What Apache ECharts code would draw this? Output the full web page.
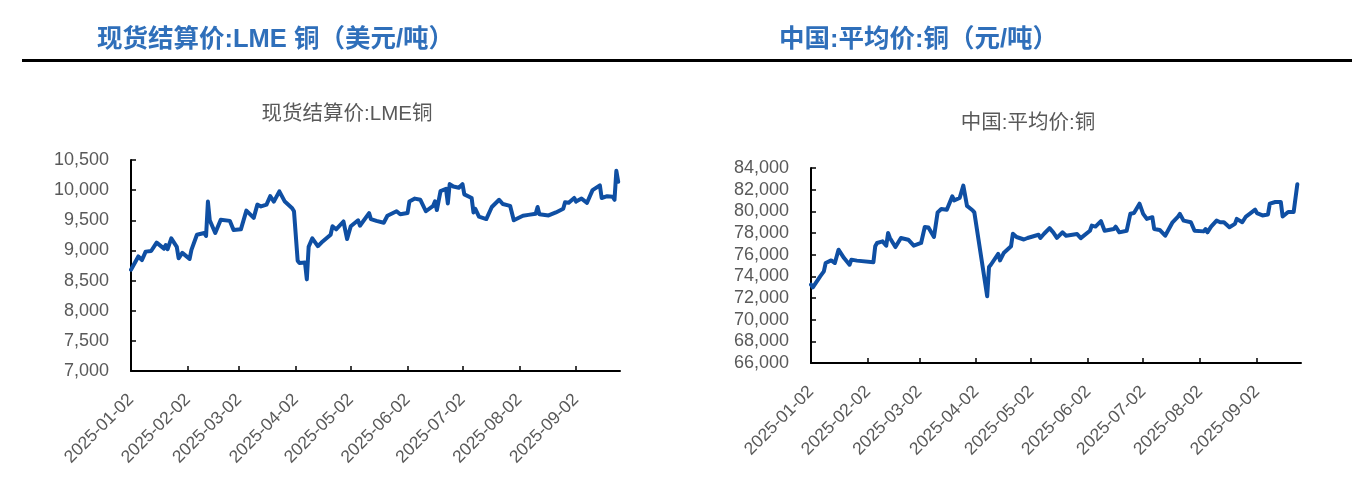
<!DOCTYPE html>
<html>
<head>
<meta charset="utf-8">
<script src="https://cdn.jsdelivr.net/npm/echarts@6/dist/echarts.min.js"></script>
<style>
html,body{margin:0;padding:0;background:#fff;}
#c{width:1360px;height:479px;}
</style>
</head>
<body>
<div id="c"></div>
<script>
// ---- data ----
const tickLabels = ['2025-01-02','2025-02-02','2025-03-02','2025-04-02','2025-05-02','2025-06-02','2025-07-02','2025-08-02','2025-09-02'];
const axisStart = '2025-01-02';
const axisEnd = '2025-09-26';

const lmeDates = ['2025-01-02','2025-01-06','2025-01-08','2025-01-10','2025-01-13','2025-01-16','2025-01-20','2025-01-21','2025-01-22','2025-01-24','2025-01-27','2025-01-28','2025-01-30','2025-02-03','2025-02-04','2025-02-07','2025-02-11','2025-02-12','2025-02-13','2025-02-14','2025-02-17','2025-02-20','2025-02-25','2025-02-27','2025-03-03','2025-03-06','2025-03-10','2025-03-12','2025-03-14','2025-03-17','2025-03-19','2025-03-21','2025-03-24','2025-03-27','2025-03-31','2025-04-01','2025-04-02','2025-04-03','2025-04-04','2025-04-07','2025-04-08','2025-04-09','2025-04-11','2025-04-14','2025-04-16','2025-04-21','2025-04-22','2025-04-24','2025-04-28','2025-04-30','2025-05-02','2025-05-06','2025-05-07','2025-05-12','2025-05-13','2025-05-16','2025-05-20','2025-05-22','2025-05-27','2025-05-29','2025-06-02','2025-06-03','2025-06-06','2025-06-09','2025-06-12','2025-06-16','2025-06-17','2025-06-18','2025-06-20','2025-06-23','2025-06-24','2025-06-25','2025-06-27','2025-06-30','2025-07-02','2025-07-03','2025-07-07','2025-07-08','2025-07-09','2025-07-11','2025-07-15','2025-07-18','2025-07-22','2025-07-24','2025-07-28','2025-07-30','2025-08-04','2025-08-07','2025-08-11','2025-08-12','2025-08-13','2025-08-18','2025-08-19','2025-08-22','2025-08-26','2025-08-27','2025-08-29','2025-09-01','2025-09-02','2025-09-05','2025-09-08','2025-09-11','2025-09-12','2025-09-15','2025-09-16','2025-09-19','2025-09-22','2025-09-23','2025-09-24','2025-09-25'];
const lmeValues = [8680,8900,8840,8980,8990,9130,9030,9090,9020,9200,9060,8870,8960,8860,9010,9260,9290,9240,9810,9500,9290,9510,9490,9340,9350,9660,9540,9760,9730,9760,9900,9810,9980,9810,9700,9650,9620,8830,8790,8800,8520,9060,9200,9070,9130,9260,9400,9350,9480,9190,9400,9500,9410,9620,9520,9490,9460,9575,9650,9600,9620,9810,9860,9840,9650,9740,9815,9670,9985,10020,9780,10100,10060,10040,10100,9930,9870,9630,9690,9560,9520,9720,9840,9770,9740,9500,9575,9590,9610,9720,9600,9580,9550,9630,9690,9800,9790,9870,9810,9860,9790,10000,9970,10080,9870,9900,9890,9840,10320,10140];

const cnDates = ['2025-01-02','2025-01-03','2025-01-07','2025-01-09','2025-01-10','2025-01-13','2025-01-15','2025-01-17','2025-01-20','2025-01-21','2025-01-23','2025-01-24','2025-01-27','2025-02-05','2025-02-06','2025-02-07','2025-02-10','2025-02-12','2025-02-13','2025-02-14','2025-02-17','2025-02-20','2025-02-24','2025-02-27','2025-03-03','2025-03-04','2025-03-05','2025-03-07','2025-03-10','2025-03-12','2025-03-14','2025-03-17','2025-03-20','2025-03-21','2025-03-24','2025-03-26','2025-03-28','2025-03-31','2025-04-01','2025-04-02','2025-04-08','2025-04-09','2025-04-10','2025-04-14','2025-04-15','2025-04-17','2025-04-21','2025-04-22','2025-04-24','2025-04-25','2025-04-28','2025-04-30','2025-05-06','2025-05-07','2025-05-09','2025-05-12','2025-05-14','2025-05-16','2025-05-19','2025-05-21','2025-05-27','2025-05-29','2025-05-30','2025-06-03','2025-06-04','2025-06-06','2025-06-09','2025-06-11','2025-06-16','2025-06-17','2025-06-19','2025-06-23','2025-06-25','2025-06-27','2025-06-30','2025-07-02','2025-07-04','2025-07-07','2025-07-08','2025-07-11','2025-07-14','2025-07-15','2025-07-18','2025-07-21','2025-07-22','2025-07-24','2025-07-28','2025-07-30','2025-08-04','2025-08-05','2025-08-06','2025-08-08','2025-08-11','2025-08-13','2025-08-15','2025-08-18','2025-08-21','2025-08-22','2025-08-25','2025-08-27','2025-08-29','2025-09-01','2025-09-02','2025-09-05','2025-09-08','2025-09-09','2025-09-12','2025-09-15','2025-09-16','2025-09-19','2025-09-22','2025-09-23','2025-09-24'];
const cnValues = [73230,72980,74000,74460,75230,75470,75230,76460,75690,75600,75070,75540,75450,75300,76770,77080,77230,76830,78000,77540,76700,77540,77380,76830,77080,77130,78550,78500,77630,79900,80220,80150,81380,81010,81230,82370,80500,80100,79900,79800,72160,74860,75070,76080,75470,76150,76770,77930,77630,77450,77400,77540,77840,77540,77930,78450,78060,77550,78060,77750,77900,77530,77530,78210,78680,78590,79090,78210,78370,78580,78060,78210,79770,79840,80710,79770,79300,79460,78370,78280,77750,77900,78990,79520,79770,79140,78990,78210,78150,78370,78060,78580,79140,78990,78990,78530,78840,79300,78990,79520,79770,80150,79840,79620,79710,80710,80860,80860,79520,79940,79940,79850,82510];

// ---- build calendar categories ----
function buildDays(a, b) {
  const out = [];
  let d = new Date(a + 'T00:00:00Z');
  const e = new Date(b + 'T00:00:00Z');
  while (d <= e) {
    out.push(d.toISOString().slice(0, 10));
    d = new Date(d.getTime() + 86400000);
  }
  return out;
}
const categories = buildDays(axisStart, axisEnd);
function toSeries(dates, values) {
  const m = {};
  dates.forEach((d, i) => { m[d] = values[i]; });
  return categories.map(c => (c in m ? m[c] : null));
}

const lineColor = '#0f4fa3';
const labelColor = '#595959';
const numFont = '"Liberation Sans", Arial, sans-serif';
const isTick = (idx, val) => tickLabels.indexOf(val) >= 0;
const fmt = v => String(v).replace(/\B(?=(\d{3})+(?!\d))/g, ',');

function xAxis(gi) {
  return {
    type: 'category', gridIndex: gi, data: categories, boundaryGap: false,
    axisLine: { lineStyle: { color: '#000', width: 2 } },
    axisTick: { inside: true, length: 5, interval: isTick, lineStyle: { color: '#000', width: 1.5 } },
    axisLabel: { interval: isTick, rotate: 45, margin: 26, fontSize: 17.5, color: labelColor, fontFamily: numFont },
    splitLine: { show: false }
  };
}
function yAxis(gi, min, max, interval) {
  return {
    type: 'value', gridIndex: gi, min: min, max: max, interval: interval,
    axisLine: { show: true, lineStyle: { color: '#000', width: 2 } },
    axisTick: { show: true, inside: true, length: 5, lineStyle: { color: '#000', width: 1.5 } },
    axisLabel: { fontSize: 18, color: labelColor, fontFamily: numFont, margin: 22, formatter: fmt },
    splitLine: { show: false }
  };
}

const chart = echarts.init(document.getElementById('c'), null, { renderer: 'canvas' });
const headFont = 'bold 25.5px "Liberation Sans", "Noto Sans CJK SC", sans-serif';
const subFont = '20.5px "Liberation Sans", "Noto Sans CJK SC", sans-serif';
chart.setOption({
  animation: false,
  backgroundColor: '#fff',
  grid: [
    { left: 131, top: 160, width: 489, height: 211, containLabel: false },
    { left: 811, top: 168, width: 490, height: 195, containLabel: false }
  ],
  xAxis: [xAxis(0), xAxis(1)],
  yAxis: [yAxis(0, 7000, 10500, 500), yAxis(1, 66000, 84000, 2000)],
  graphic: [
    { type: 'text', x: 97, y: 40, style: { text: '现货结算价:LME 铜（美元/吨）', font: headFont, fill: '#2f6fba', align: 'left', verticalAlign: 'middle' } },
    { type: 'text', x: 779, y: 40, style: { text: '中国:平均价:铜（元/吨）', font: headFont, fill: '#2f6fba', align: 'left', verticalAlign: 'middle' } },
    { type: 'rect', shape: { x: 22, y: 59, width: 1330, height: 3 }, style: { fill: '#000' } },
    { type: 'text', x: 347, y: 114, style: { text: '现货结算价:LME铜', font: subFont, fill: labelColor, align: 'center', verticalAlign: 'middle' } },
    { type: 'text', x: 1028, y: 123, style: { text: '中国:平均价:铜', font: subFont, fill: labelColor, align: 'center', verticalAlign: 'middle' } }
  ],
  series: [
    { type: 'line', xAxisIndex: 0, yAxisIndex: 0, data: toSeries(lmeDates, lmeValues), connectNulls: true, showSymbol: false, symbol: 'none',
      lineStyle: { color: lineColor, width: 4, join: 'round', cap: 'round' } },
    { type: 'line', xAxisIndex: 1, yAxisIndex: 1, data: toSeries(cnDates, cnValues), connectNulls: true, showSymbol: false, symbol: 'none',
      lineStyle: { color: lineColor, width: 4, join: 'round', cap: 'round' } }
  ]
});
</script>
</body>
</html>
